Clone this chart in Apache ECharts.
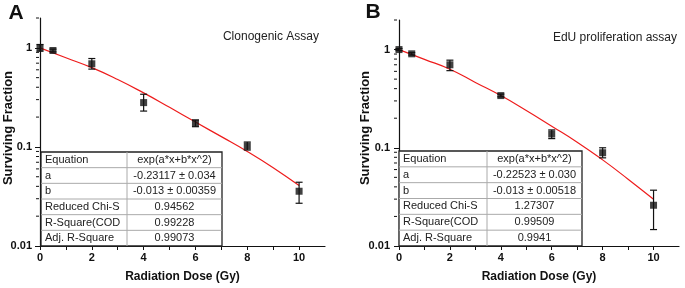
<!DOCTYPE html>
<html>
<head>
<meta charset="utf-8">
<script src="https://cdn.jsdelivr.net/npm/echarts@6/dist/echarts.min.js"></script>
<style>
html, body { margin: 0; padding: 0; background: #fff; }
#main { width: 685px; height: 288px; }
</style>
</head>
<body>
<div id="main"></div>
<script>
// measured points (dose in Gy, surviving fraction)
var dose = [0, 0.5, 2, 4, 6, 8, 10];
var sfA = [1.0, 0.94, 0.69, 0.28, 0.174, 0.102, 0.0357];
var lowA = [0.925, 0.91, 0.61, 0.23, 0.16, 0.093, 0.027];
var highA = [1.08, 0.97, 0.78, 0.34, 0.187, 0.112, 0.044];
var sfB = [1.0, 0.905, 0.70, 0.34, 0.138, 0.089, 0.026];
var lowB = [0.975, 0.88, 0.61, 0.33, 0.124, 0.079, 0.0147];
var highB = [1.025, 0.93, 0.78, 0.352, 0.152, 0.100, 0.037];

// fitted red curve
var fitDose = [0, 1, 2, 3, 4, 5, 6, 7, 8, 9, 10];
var fitA = [1.0, 0.794, 0.631, 0.479, 0.351, 0.251, 0.178, 0.127, 0.090, 0.0617, 0.0407];
var fitB = [1.0, 0.795, 0.631, 0.463, 0.340, 0.240, 0.166, 0.114, 0.0753, 0.0479, 0.0299];

var yMinor = [0.02, 0.03, 0.04, 0.05, 0.06, 0.07, 0.08, 0.09, 0.2, 0.3, 0.4, 0.5, 0.6, 0.7, 0.8, 0.9, 2];

// fit tables
var tableLabels = ['Equation', 'a', 'b', 'Reduced Chi-S', 'R-Square(COD', 'Adj. R-Square'];
var tableA = ['exp(a*x+b*x^2)', '-0.23117 \u00b1 0.034', '-0.013 \u00b1 0.00359', '0.94562', '0.99228', '0.99073'];
var tableB = ['exp(a*x+b*x^2)', '-0.22523 \u00b1 0.030', '-0.013 \u00b1 0.00518', '1.27307', '0.99509', '0.9941'];

var chart = echarts.init(document.getElementById('main'));
var FONT = 'Liberation Sans, Arial, sans-serif';

function pairs(xs, ys) {
	var out = [];
	for (var i = 0; i < xs.length; i++) out.push([xs[i], ys[i]]);
	return out;
}
function errData(xs, lo, hi) {
	var out = [];
	for (var i = 0; i < xs.length; i++) out.push([xs[i], lo[i], hi[i]]);
	return out;
}

function renderErr(params, api) {
	var x = api.value(0);
	var p1 = api.coord([x, api.value(1)]);
	var p2 = api.coord([x, api.value(2)]);
	var w = 3.5;
	var st = { stroke: '#111', lineWidth: 1.2 };
	return {
		type: 'group',
		children: [
			{ type: 'line', shape: { x1: p1[0], y1: p1[1], x2: p2[0], y2: p2[1] }, style: st },
			{ type: 'line', shape: { x1: p1[0] - w, y1: p1[1], x2: p1[0] + w, y2: p1[1] }, style: st },
			{ type: 'line', shape: { x1: p2[0] - w, y1: p2[1], x2: p2[0] + w, y2: p2[1] }, style: st }
		]
	};
}

function minorTickRenderer(off) {
	return function (params, api) {
		var p = api.coord([0, api.value(0)]);
		var x0 = params.coordSys.x - off;
		return {
			type: 'line',
			shape: { x1: x0 - 3, y1: p[1], x2: x0, y2: p[1] },
			style: { stroke: '#111', lineWidth: 1 }
		};
	};
}

function xAxisCfg(idx) {
	return {
		gridIndex: idx, type: 'value', min: 0, max: 11, interval: 1,
		name: 'Radiation Dose (Gy)', nameLocation: 'middle', nameGap: 25,
		nameTextStyle: { fontFamily: FONT, fontWeight: 'bold', fontSize: 12, color: '#111' },
		axisLine: { lineStyle: { color: '#111', width: 1.2 } },
		axisTick: { length: 4, lineStyle: { color: '#111' } },
		axisLabel: {
			margin: 6, fontFamily: FONT, fontWeight: 'bold', fontSize: 11, color: '#111',
			showMaxLabel: false,
			formatter: function (v) { return v % 2 === 0 ? String(v) : ''; }
		},
		splitLine: { show: false }
	};
}

function yAxisCfg(idx, off) {
	return {
		gridIndex: idx, type: 'log', logBase: 10, min: 0.01, max: 2, offset: off,
		axisLine: { show: true, lineStyle: { color: '#111', width: 1.2 } },
		axisTick: { show: true, length: 5, lineStyle: { color: '#111' } },
		axisLabel: {
			margin: 7, fontFamily: FONT, fontWeight: 'bold', fontSize: 11, color: '#111',
			showMaxLabel: false,
			formatter: function (v) { return String(+(+v).toPrecision(3)); }
		},
		splitLine: { show: false }
	};
}

function tableGraphics(x, y, w, h, split, labels, values) {
	var els = [];
	var rh = h / labels.length;
	els.push({ type: 'rect', shape: { x: x, y: y, width: w, height: h }, style: { fill: '#fff', stroke: '#222', lineWidth: 1.3 }, z: 10 });
	for (var i = 1; i < labels.length; i++) {
		els.push({ type: 'line', shape: { x1: x, y1: y + i * rh, x2: x + w, y2: y + i * rh }, style: { stroke: '#aaa', lineWidth: 1 }, z: 11 });
	}
	els.push({ type: 'line', shape: { x1: split, y1: y, x2: split, y2: y + h }, style: { stroke: '#aaa', lineWidth: 1 }, z: 11 });
	for (var j = 0; j < labels.length; j++) {
		var cy = y + (j + 0.5) * rh;
		els.push({ type: 'text', z: 12, style: { text: labels[j], x: x + 4, y: cy, textAlign: 'left', textVerticalAlign: 'middle', font: '11px ' + FONT, fill: '#222' } });
		els.push({ type: 'text', z: 12, style: { text: values[j], x: (split + x + w) / 2, y: cy, textAlign: 'center', textVerticalAlign: 'middle', font: '11px ' + FONT, fill: '#222' } });
	}
	return els;
}

var graphics = [
	{ type: 'text', style: { text: 'A', x: 16, y: 13, textAlign: 'center', textVerticalAlign: 'middle', font: 'bold 21px ' + FONT, fill: '#111' } },
	{ type: 'text', style: { text: 'B', x: 373, y: 12, textAlign: 'center', textVerticalAlign: 'middle', font: 'bold 21px ' + FONT, fill: '#111' } },
	{ type: 'text', x: 8, y: 128, rotation: Math.PI / 2, style: { text: 'Surviving Fraction', x: 0, y: 0, textAlign: 'center', textVerticalAlign: 'middle', font: 'bold 13px ' + FONT, fill: '#111' } },
	{ type: 'text', x: 365, y: 128, rotation: Math.PI / 2, style: { text: 'Surviving Fraction', x: 0, y: 0, textAlign: 'center', textVerticalAlign: 'middle', font: 'bold 13px ' + FONT, fill: '#111' } },
	{ type: 'text', style: { text: 'Clonogenic Assay', x: 319, y: 37, textAlign: 'right', textVerticalAlign: 'middle', font: '12px ' + FONT, fill: '#222' } },
	{ type: 'text', style: { text: 'EdU proliferation assay', x: 677, y: 38, textAlign: 'right', textVerticalAlign: 'middle', font: '12px ' + FONT, fill: '#222' } }
];
graphics = graphics.concat(tableGraphics(41, 152, 181, 94, 127, tableLabels, tableA));
graphics = graphics.concat(tableGraphics(399, 151, 183, 95, 487, tableLabels, tableB));

var option = {
	animation: false,
	backgroundColor: '#fff',
	grid: [
		{ left: 40, top: 18, right: 360, bottom: 39 },
		{ left: 399, top: 20, right: 6, bottom: 39 }
	],
	xAxis: [xAxisCfg(0), xAxisCfg(1)],
	yAxis: [yAxisCfg(0, 1), yAxisCfg(1, 2)],
	graphic: graphics,
	series: [
		{ type: 'line', xAxisIndex: 0, yAxisIndex: 0, data: pairs(fitDose, fitA), smooth: true, showSymbol: false, lineStyle: { color: '#ee1c1c', width: 1.2 }, z: 2 },
		{ type: 'line', xAxisIndex: 1, yAxisIndex: 1, data: pairs(fitDose, fitB), smooth: true, showSymbol: false, lineStyle: { color: '#ee1c1c', width: 1.2 }, z: 2 },
		{ type: 'custom', xAxisIndex: 0, yAxisIndex: 0, data: errData(dose, lowA, highA), encode: { x: 0, y: [1, 2] }, renderItem: renderErr, z: 3 },
		{ type: 'custom', xAxisIndex: 1, yAxisIndex: 1, data: errData(dose, lowB, highB), encode: { x: 0, y: [1, 2] }, renderItem: renderErr, z: 3 },
		{ type: 'scatter', xAxisIndex: 0, yAxisIndex: 0, data: pairs(dose, sfA), symbol: 'rect', symbolSize: 7, itemStyle: { color: '#111' }, z: 4 },
		{ type: 'scatter', xAxisIndex: 1, yAxisIndex: 1, data: pairs(dose, sfB), symbol: 'rect', symbolSize: 7, itemStyle: { color: '#111' }, z: 4 },
		{ type: 'custom', xAxisIndex: 0, yAxisIndex: 0, data: yMinor.map(function (v) { return [v]; }), encode: { y: 0 }, renderItem: minorTickRenderer(1), silent: true },
		{ type: 'custom', xAxisIndex: 1, yAxisIndex: 1, data: yMinor.map(function (v) { return [v]; }), encode: { y: 0 }, renderItem: minorTickRenderer(2), silent: true }
	]
};
chart.setOption(option);
</script>
</body>
</html>
